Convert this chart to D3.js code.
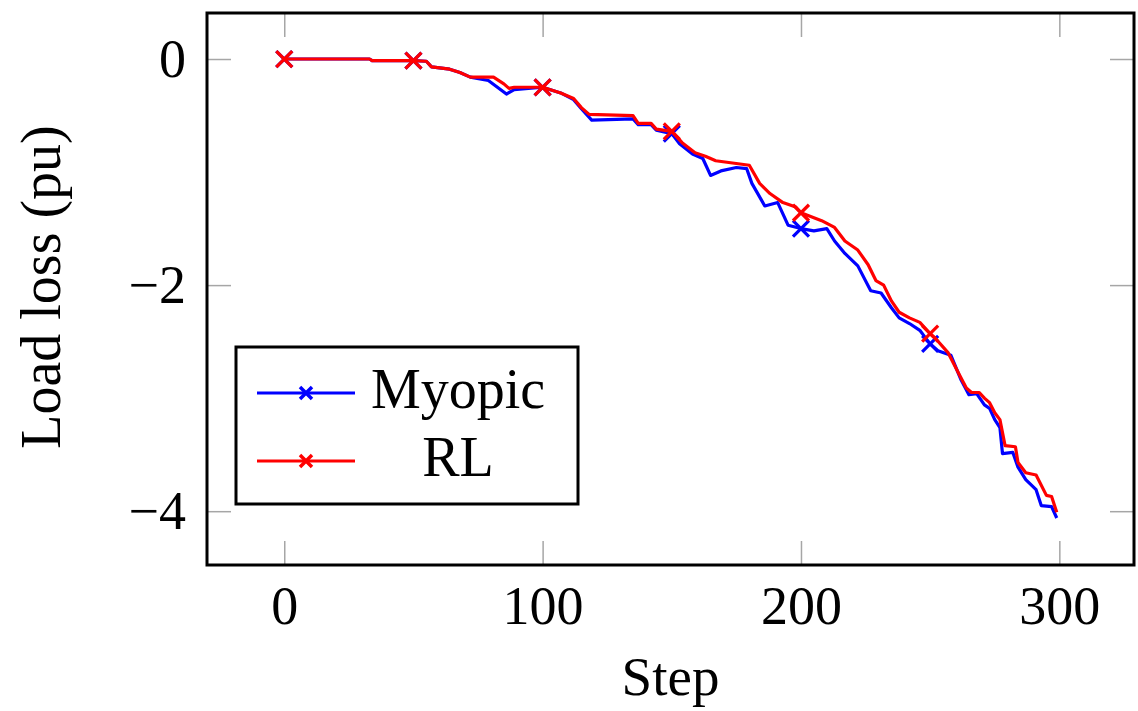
<!DOCTYPE html>
<html>
<head>
<meta charset="utf-8">
<script src="https://cdn.jsdelivr.net/npm/d3@7"></script>
<style>
  body { margin: 0; background: #fff; }
  text { font-family: "Liberation Serif", "DejaVu Serif", serif; }
</style>
</head>
<body>
<div class="center"></div>
<script>
// data: [step, load loss]
const myopic = [[0,0],[33,0],[34,-0.015],[50,-0.015],[55,-0.02],[57,-0.07],[64,-0.09],[68,-0.12],[72,-0.16],
  [79,-0.19],[86,-0.31],[89,-0.27],[100,-0.25],[107,-0.30],[112,-0.36],[115,-0.44],[119,-0.54],[135,-0.53],
  [137,-0.58],[142,-0.58],[144,-0.63],[150,-0.66],[153,-0.75],[158,-0.84],[162,-0.88],[165,-1.03],[169,-0.99],
  [175,-0.96],[179,-0.97],[181,-1.10],[186,-1.30],[191,-1.27],[195,-1.47],[200,-1.50],[205,-1.52],[210,-1.50],
  [213,-1.61],[217,-1.72],[222,-1.83],[227,-2.05],[231,-2.07],[235,-2.20],[238,-2.29],[242,-2.34],[246,-2.40],
  [248,-2.46],[250,-2.52],[253,-2.58],[258,-2.62],[262,-2.84],[265,-2.97],[268,-2.96],[271,-3.06],[273,-3.09],
  [275,-3.19],[277,-3.26],[278,-3.49],[282,-3.48],[284,-3.61],[287,-3.72],[291,-3.81],[293,-3.95],[297,-3.96],
  [299,-4.06]];
const rl = [[0,0],[33,0],[34,-0.015],[50,-0.015],[55,-0.02],[57,-0.07],[64,-0.09],[68,-0.12],[72,-0.16],
  [81,-0.16],[85,-0.22],[87,-0.26],[89,-0.25],[100,-0.25],[107,-0.30],[112,-0.35],[115,-0.43],[118,-0.49],
  [135,-0.50],[137,-0.57],[142,-0.57],[144,-0.62],[150,-0.64],[154,-0.74],[159,-0.83],[163,-0.86],[167,-0.90],
  [180,-0.94],[184,-1.10],[188,-1.19],[193,-1.27],[198,-1.31],[200,-1.36],[208,-1.43],[213,-1.49],[217,-1.61],
  [222,-1.69],[226,-1.82],[229,-1.96],[232,-2.00],[235,-2.14],[238,-2.24],[242,-2.29],[246,-2.33],[250,-2.43],
  [252,-2.47],[257,-2.60],[261,-2.78],[264,-2.91],[266,-2.95],[269,-2.95],[271,-3.00],[273,-3.04],[275,-3.13],
  [277,-3.19],[279,-3.42],[283,-3.43],[284,-3.57],[287,-3.66],[291,-3.68],[295,-3.86],[297,-3.87],[299,-4.01]];
const markSteps = [0, 50, 100, 150, 200, 250];
const xTicks = [0, 100, 200, 300];
const yTicks = [-4, -2, 0];
const seriesNames = ["Myopic", "RL"];
const seriesColors = ["#0000ff", "#ff0000"];

const W = 1138, H = 711;
const box = {left: 207, right: 1134, top: 13, bottom: 565};

const x = d3.scaleLinear().domain([-29.9, 328.9]).range([box.left, box.right]);
const y = d3.scaleLinear().domain([-4.476, 0.407]).range([box.bottom, box.top]);

const svg = d3.select(".center").append("svg")
  .attr("width", W).attr("height", H);

const fontSize = 54;
const tickLen = 24;
const fmt = d3.format("d");

// axes, ticks on all four sides pointing inward
function styleAxis(g) {
  g.select(".domain").remove();
  g.selectAll(".tick line").attr("stroke", "#a6a6a6").attr("stroke-width", 1.5);
  g.selectAll(".tick text").attr("fill", "#000")
    .style("font-family", "'Liberation Serif', serif").style("font-size", fontSize + "px");
}
svg.append("g").attr("transform", `translate(0,${box.bottom})`)
  .call(d3.axisBottom(x).tickValues(xTicks).tickFormat(fmt).tickSizeInner(-tickLen).tickSizeOuter(0).tickPadding(21))
  .call(styleAxis);
svg.append("g").attr("transform", `translate(0,${box.top})`)
  .call(d3.axisTop(x).tickValues(xTicks).tickSizeInner(-tickLen).tickSizeOuter(0).tickFormat(""))
  .call(styleAxis);
svg.append("g").attr("transform", `translate(${box.left},0)`)
  .call(d3.axisLeft(y).tickValues(yTicks).tickFormat(fmt).tickSizeInner(-tickLen).tickSizeOuter(0).tickPadding(21))
  .call(styleAxis);
svg.append("g").attr("transform", `translate(${box.right},0)`)
  .call(d3.axisRight(y).tickValues(yTicks).tickSizeInner(-tickLen).tickSizeOuter(0).tickFormat(""))
  .call(styleAxis);

// lines
const line = d3.line().x(d => x(d[0])).y(d => y(d[1]));
const crossPath = s => `M${-s},${-s}L${s},${s}M${-s},${s}L${s},${-s}`;

[myopic, rl].forEach((data, i) => {
  svg.append("path")
    .datum(data)
    .attr("d", line)
    .attr("fill", "none")
    .attr("stroke", seriesColors[i])
    .attr("stroke-width", 3.2)
    .attr("stroke-linejoin", "round");
  svg.selectAll(".mk" + i)
    .data(data.filter(d => markSteps.includes(d[0])))
    .enter().append("path")
    .attr("transform", d => `translate(${x(d[0])},${y(d[1])})`)
    .attr("d", crossPath(8))
    .attr("stroke", seriesColors[i])
    .attr("stroke-width", 3.2);
});

// frame
svg.append("rect")
  .attr("x", box.left).attr("y", box.top)
  .attr("width", box.right - box.left).attr("height", box.bottom - box.top)
  .attr("fill", "none").attr("stroke", "#000").attr("stroke-width", 3);

// legend
const lg = svg.append("g");
lg.append("rect")
  .attr("x", 236).attr("y", 347).attr("width", 342).attr("height", 157)
  .attr("fill", "#fff").attr("stroke", "#000").attr("stroke-width", 3);
seriesNames.forEach((name, i) => {
  const ly = 393 + i * 68;
  lg.append("line").attr("x1", 257).attr("x2", 355).attr("y1", ly).attr("y2", ly)
    .attr("stroke", seriesColors[i]).attr("stroke-width", 3.2);
  lg.append("path").attr("transform", `translate(306,${ly})`).attr("d", crossPath(6))
    .attr("stroke", seriesColors[i]).attr("stroke-width", 3.5);
  lg.append("text").attr("x", 458).attr("y", ly + 15)
    .attr("text-anchor", "middle")
    .style("font-size", "56px")
    .text(name);
});

// axis labels
svg.append("text")
  .attr("x", (box.left + box.right) / 2).attr("y", 695)
  .attr("text-anchor", "middle")
  .style("font-size", "55px")
  .text("Step");

svg.append("text")
  .attr("transform", "translate(60,287) rotate(-90)")
  .attr("text-anchor", "middle")
  .style("font-size", "56px")
  .text("Load loss (pu)");
</script>
</body>
</html>
